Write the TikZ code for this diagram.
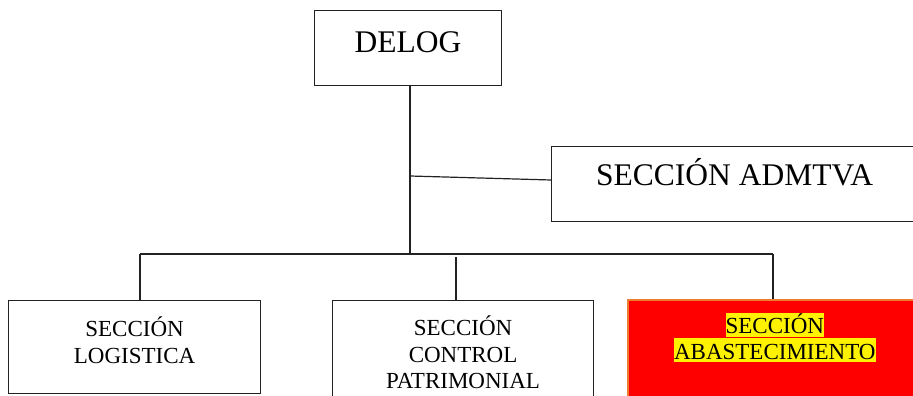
\documentclass[tikz,border=0pt]{standalone}
\usepackage{fontspec}
\setmainfont{Liberation Serif}
\usetikzlibrary{calc}
\definecolor{boxline}{HTML}{222222}
\definecolor{hiorange}{HTML}{ED7D31}
\newcommand{\bigtxt}{\fontsize{31.5}{36}\selectfont}
\newcommand{\smalltxt}{\fontsize{23}{26.5}\selectfont}
% yellow text highlight behind one line
\newcommand{\hilite}[1]{{\setlength{\fboxsep}{0pt}\colorbox{yellow}{\rule[-3pt]{0pt}{24pt}#1}}}
% box whose text is set from the top, at a given first baseline
\newcommand{\topbox}[4]{\parbox[t][#2pt][t]{#1pt}{\centering\rule{0pt}{#3pt}#4}}
\tikzset{
  unitbox/.style={draw=boxline, line width=1.2pt, inner sep=0pt, anchor=north west},
  redbox/.style={unitbox, draw=hiorange, line width=1.6pt, fill=red},
  link/.style={draw=boxline, line width=1.2pt}
}
\begin{document}
\begin{tikzpicture}[x=1pt, y=-1pt]
\useasboundingbox (0,0) rectangle (913,396);
\clip (0,0) rectangle (913,396);

% boxes
\node[unitbox] (delog)  at (314,10)  {\topbox{187}{75}{42}{\bigtxt DELOG}};
\node[unitbox] (admtva) at (551,146) {\topbox{366}{75}{39}{\bigtxt SECCIÓN ADMTVA}};
\node[unitbox] (log)    at (8,300)   {\topbox{252}{93}{36}{\smalltxt SECCIÓN\\LOGISTICA}};
\node[unitbox] (ctrl)   at (332,300) {\topbox{261}{110}{35}{\smalltxt SECCIÓN\\CONTROL\\PATRIMONIAL}};
\node[redbox]  (abas)   at (627,299) {\topbox{294}{110}{34}{\smalltxt \hilite{SECCIÓN}\\[-1pt]\hilite{ABASTECIMIENTO}}};

% junction points
\coordinate (trunk) at (410,254);
\coordinate (busL)  at (140,254);
\coordinate (busR)  at (773,254);
\coordinate (midtop) at (456,257);
\coordinate (aside) at (410,176);
\coordinate (ain)   at ($(admtva.north west)+(0,34)$);

% connectors
\draw[link] (delog.south -| trunk) -- (trunk);
\draw[link] (aside) -- (ain);
\draw[link] (busL) -- (busR);
\draw[link] (busL) -- (busL |- log.north);
\draw[link] (midtop) -- (midtop |- ctrl.north);
\draw[link] (busR) -- (busR |- abas.north);
\end{tikzpicture}
\end{document}
